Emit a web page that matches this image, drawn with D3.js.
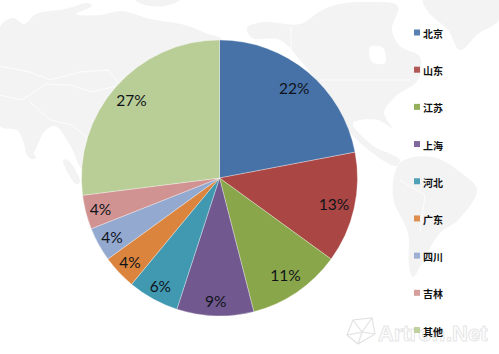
<!DOCTYPE html>
<html>
<head>
<meta charset="utf-8">
<style>
  html, body { margin: 0; padding: 0; background: #fff; }
  svg { display: block; }
  .land { fill: #f3f3f4; stroke: none; }
  .water { fill: #fff; stroke: none; }
  .border { fill: none; stroke: #fff; stroke-width: 0.8; }
  .pct { font-family: Lato, "Open Sans", sans-serif; font-size: 15.5px; fill: #10131a; text-anchor: middle; dominant-baseline: central; }
  .legend-label { font-family: "Noto Sans CJK SC", sans-serif; font-size: 10px; font-weight: 700; fill: #111; dominant-baseline: central; }
  .mark-text { font-family: "Liberation Sans", sans-serif; font-size: 22px; font-weight: bold; fill: #fff; stroke: #e6e6e6; stroke-width: 1; }
</style>
</head>
<body>
<svg></svg>
<script src="https://cdn.jsdelivr.net/npm/d3@7"></script>
<script>
// Chart data
const categories = ["北京", "山东", "江苏", "上海", "河北", "广东", "四川", "吉林", "其他"];
const shares = [22, 13, 11, 9, 6, 4, 4, 4, 27];
const colors = ["#4672a8", "#aa4644", "#8aa64a", "#71588f", "#4099b0", "#db843d", "#93a9cf", "#d19392", "#b9cd96"];

// Faint world map behind the pie, traced by hand
const landShapes = [
  // Eurasia
  [[0,27],[13,18],[24,24],[36,14],[65,9],[88,3],[92,6],[76,14],[100,15],[122,11],[150,19],[185,25],[205,33],[225,42],[225,150],[120,190],[84,172],[70,145],[55,126],[45,131],[30,157],[18,131],[0,126]],
  // Malay strip and islands
  [[25,150],[30,150],[36,158],[31,159]],
  [[63,160],[68,160],[80,182],[76,184]],
  // Arctic Russia
  [[135,0],[180,0],[165,6],[145,5]],
  // North America
  [[247,28],[263,22],[300,24],[322,10],[340,4],[372,2],[398,6],[392,30],[400,46],[420,57],[418,80],[396,96],[384,113],[392,128],[378,120],[353,123],[372,145],[400,160],[396,166],[352,135],[330,100],[300,60],[280,40],[252,38]],
  // Greenland
  [[423,0],[499,0],[499,20],[478,34],[460,50],[448,30],[430,14]],
  // South America
  [[400,163],[433,157],[460,172],[477,190],[458,220],[440,233],[427,253],[413,277],[409,266],[408,233],[393,197]]
];
const waterShapes = [
  // Hudson Bay
  [[370,47],[383,48],[385,63],[372,62]]
];
const borderLines = [
  [[320,80],[410,80]],
  [[291,27],[291,60]],
  [[0,66],[30,72],[50,80],[80,72],[108,70],[120,85],[92,92],[70,85],[46,84],[22,100],[0,95]],
  [[30,102],[50,120],[72,125],[90,140]],
  [[400,180],[425,195],[420,232]]
];

// Set the dimensions of the picture
const width = 499,
    height = 354;
const cx = 219.5,
    cy = 178,
    radius = 138;

const svg = d3.select("svg")
    .attr("width", width)
    .attr("height", height);

// Background map
const shapeLine = d3.line().curve(d3.curveCatmullRomClosed);
svg.append("g")
  .selectAll("path")
  .data(landShapes)
  .enter()
  .append("path")
    .attr("class", "land")
    .attr("d", d => shapeLine(d));

svg.append("g")
  .selectAll("path")
  .data(waterShapes)
  .enter()
  .append("path")
    .attr("class", "water")
    .attr("d", d => shapeLine(d));

svg.append("g")
  .selectAll("path")
  .data(borderLines)
  .enter()
  .append("path")
    .attr("class", "border")
    .attr("d", d => d3.line()(d));

// Site watermark
const watermark = svg.append("g");
watermark.append("path")
    .attr("d", "M347,335 L353,320 L372,318 L375,334 L358,344 Z M353,320 L362,332 L347,335 M372,318 L362,332 L358,344 M375,334 L362,332")
    .attr("fill", "#fff")
    .attr("stroke", "#e2e2e2")
    .attr("stroke-width", 1.2);
watermark.append("text")
    .attr("class", "mark-text")
    .attr("x", 378)
    .attr("y", 341)
    .text("Artron");
watermark.append("text")
    .attr("class", "mark-text")
    .attr("x", 446)
    .attr("y", 341)
    .text(".Net");

// Pie
const color = d3.scaleOrdinal()
    .domain(categories)
    .range(colors);

const pie = d3.pie()
    .value(d => d.share)
    .sort(null);

const arc = d3.arc()
    .innerRadius(0)
    .outerRadius(radius);

const slices = pie(categories.map((name, i) => ({name: name, share: shares[i]})));

const chart = svg.append("g")
    .attr("transform", `translate(${cx},${cy})`);

chart.selectAll("path")
  .data(slices)
  .enter()
  .append("path")
    .attr("d", arc)
    .attr("fill", d => color(d.data.name))
    .attr("stroke", "#fff")
    .attr("stroke-opacity", 0.45)
    .attr("stroke-width", 0.7);

// Percent labels sit a bit further out on the thin slices
const labelArc = d => {
  const r = radius * (d.data.share >= 11 ? 0.85 : 0.89);
  return d3.arc().innerRadius(r).outerRadius(r).centroid(d);
};

chart.selectAll("text")
  .data(slices)
  .enter()
  .append("text")
    .attr("class", "pct")
    .attr("transform", d => `translate(${labelArc(d)})`)
    .text(d => d.data.share + "%");

// Legend
const legendY = d3.scalePoint()
    .domain(categories)
    .range([32.5, 330]);

const legend = svg.append("g")
  .selectAll("g")
  .data(categories)
  .enter()
  .append("g")
    .attr("transform", d => `translate(414,${legendY(d)})`);

legend.append("rect")
    .attr("y", -3)
    .attr("width", 6)
    .attr("height", 6)
    .attr("fill", d => color(d))
    .attr("fill-opacity", 0.9);

legend.append("text")
    .attr("class", "legend-label")
    .attr("x", 9)
    .attr("y", 1)
    .text(d => d);
</script>
</body>
</html>
